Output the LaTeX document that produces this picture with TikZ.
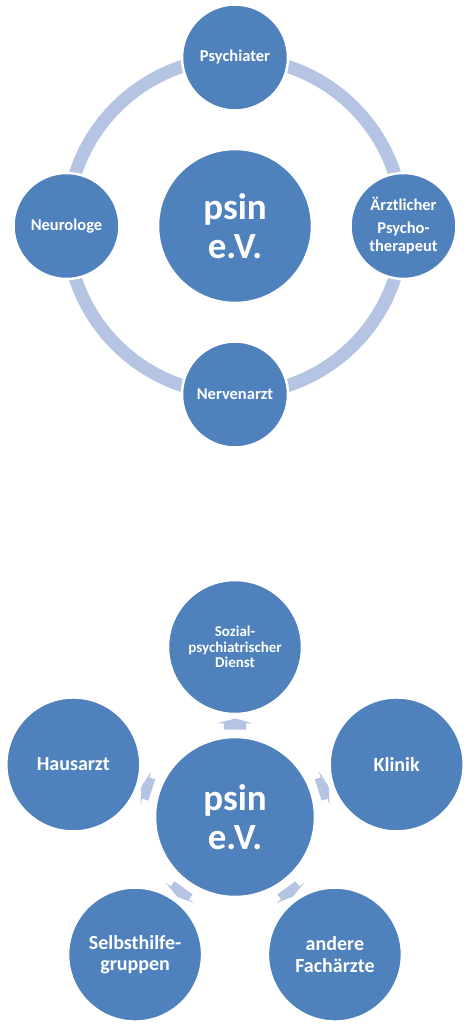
\documentclass[tikz,border=0pt]{standalone}
\usepackage{fontspec}
\setmainfont{Carlito}
\usepackage{xcolor}
\usetikzlibrary{positioning,shapes.arrows,calc}
\definecolor{psinblue}{RGB}{79,129,189}
\definecolor{psinlight}{RGB}{180,196,226}

\begin{document}
\begin{tikzpicture}[x=1pt, y=1pt, node distance=36pt,
  kreis/.style={circle, fill=psinblue, draw=white, line width=2.5pt, text=white, align=center, inner sep=0pt},
  hub/.style={kreis, minimum size=154pt, font=\fontsize{37}{39}\selectfont\bfseries},
  partner/.style={kreis, minimum size=106pt, font=\fontsize{16.5}{18.5}\selectfont\bfseries},
  stelle/.style={kreis, minimum size=134pt, font=\fontsize{20}{21.5}\selectfont\bfseries},
  ring/.style={draw=psinlight, line width=13pt},
  pfeil/.style={single arrow, fill=psinlight, draw=none, minimum height=11pt, inner xsep=0pt, inner ysep=11pt, single arrow head extend=6.5pt, single arrow tip angle=150}]
  \useasboundingbox (0,0) rectangle (469,-1024);

  % oben: Ring
  \node[hub] (psin1) at (235,-226) {psin\\e.V.};
  \draw[ring] (psin1.center) circle[radius=168pt];
  \node[partner] (psychiater) [above=of psin1] {Psychiater};
  \node[partner] (nervenarzt) [below=of psin1] {Nervenarzt};
  \node[partner] (neurologe) [left=of psin1] {Neurologe};
  \node[partner] (therapeut) [right=of psin1] {Ärztlicher\\[4pt]Psycho-\\therapeut};

  % unten: Stern
  \node[hub, minimum size=160pt] (psin2) at (235,-817) {psin\\e.V.};
  \node[stelle, font=\fontsize{15}{15.5}\selectfont\bfseries] (sozial) at ($(psin2)+(90:170)$) {Sozial-\\psychiatrischer\\Dienst};
  \node[stelle] (klinik) at ($(psin2)+(18:170)$) {Klinik};
  \node[stelle] (hausarzt) at ($(psin2)+(162:170)$) {Hausarzt};
  \node[stelle] (selbsthilfe) at ($(psin2)+(234:170)$) {Selbsthilfe-\\gruppen};
  \node[stelle] (fachaerzte) at ($(psin2)+(306:170)$) {andere\\Fachärzte};

  \node[pfeil, rotate=90] (p1) at ($(psin2.90)!0.5!(sozial.270)$) {};
  \node[pfeil, rotate=18] (p2) at ($(psin2.18)!0.5!(klinik.198)$) {};
  \node[pfeil, rotate=162] (p3) at ($(psin2.162)!0.5!(hausarzt.342)$) {};
  \node[pfeil, rotate=234] (p4) at ($(psin2.234)!0.5!(selbsthilfe.54)$) {};
  \node[pfeil, rotate=306] (p5) at ($(psin2.306)!0.5!(fachaerzte.126)$) {};
\end{tikzpicture}
\end{document}
